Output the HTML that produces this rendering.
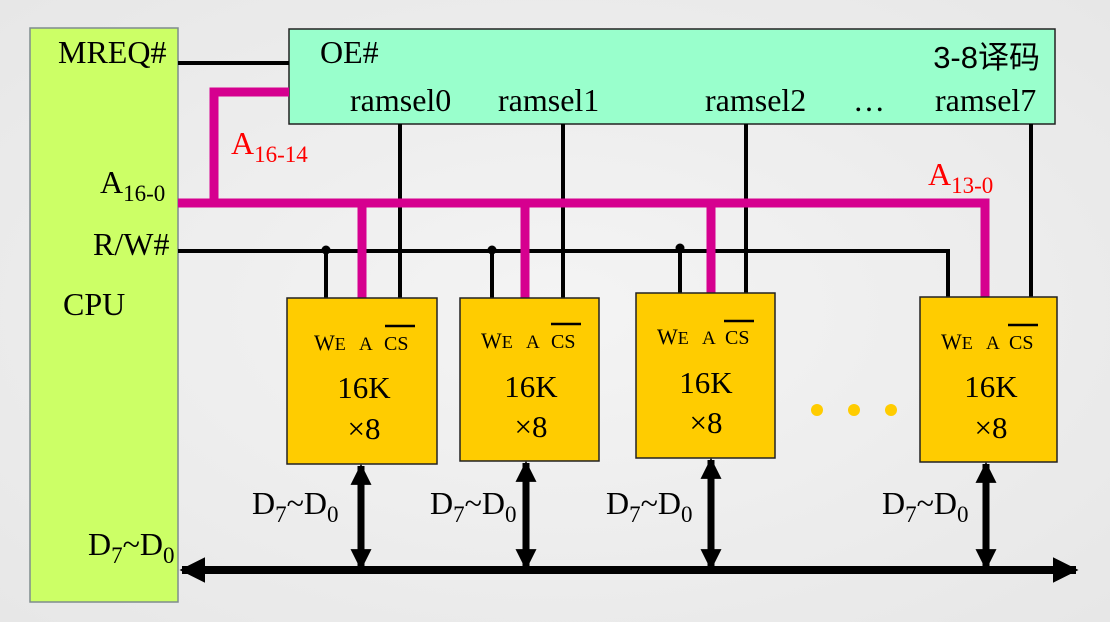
<!DOCTYPE html>
<html><head><meta charset="utf-8"><style>
html,body{margin:0;padding:0;background:#f2f2f2}
svg{display:block}
text{font-family:"Liberation Serif",serif;fill:#000}
</style></head><body>
<svg width="1110" height="622" viewBox="0 0 1110 622" xmlns="http://www.w3.org/2000/svg">
<defs>
<radialGradient id="bg" cx="50%" cy="50%" r="75%"><stop offset="0" stop-color="#f4f4f4"/><stop offset="1" stop-color="#e6e6e6"/></radialGradient>
<marker id="ah" viewBox="0 0 10 10" refX="9" refY="5" markerWidth="3.2" markerHeight="3.2" orient="auto-start-reverse"><path d="M0,0L10,5L0,10z" fill="#000"/></marker>
<marker id="ah2" viewBox="0 0 10 10" refX="9" refY="5" markerWidth="3" markerHeight="3.2" orient="auto-start-reverse"><path d="M0,0L10,5L0,10z" fill="#000"/></marker>
</defs>
<rect width="1110" height="622" fill="url(#bg)"/>
<!-- CPU -->
<rect x="30" y="28" width="148" height="574" fill="#ccff66" stroke="#7f8c8d" stroke-width="1.5"/>
<text x="58" y="63" font-size="32">MREQ#</text>
<text x="100" y="193" font-size="32">A<tspan font-size="23" dy="8">16-0</tspan></text>
<text x="93" y="255" font-size="32">R/W#</text>
<text x="63" y="315" font-size="32">CPU</text>
<text x="88" y="555" font-size="32">D<tspan font-size="23" dy="8">7</tspan><tspan dy="-8">~D</tspan><tspan font-size="23" dy="8">0</tspan></text>
<!-- decoder -->
<rect x="289" y="29" width="766" height="95" fill="#99ffcc" stroke="#222" stroke-width="1.5"/>
<text x="320" y="63" font-size="32">OE#</text>
<text x="1040" y="68" font-size="31" text-anchor="end" style="font-family:'Liberation Sans','Noto Sans CJK SC',sans-serif">3-8译码</text>
<text x="350" y="111" font-size="32">ramsel0</text>
<text x="498" y="111" font-size="32">ramsel1</text>
<text x="705" y="111" font-size="32">ramsel2</text>
<text x="853" y="111" font-size="32">…</text>
<text x="935" y="111" font-size="32">ramsel7</text>
<!-- MREQ -->
<line x1="178" y1="63" x2="289" y2="63" stroke="#000" stroke-width="4"/>
<g stroke="#000" stroke-width="4">
<line x1="400" y1="124" x2="400" y2="298"/>
<line x1="563" y1="124" x2="563" y2="298"/>
<line x1="746" y1="124" x2="746" y2="293"/>
<line x1="1031" y1="124" x2="1031" y2="297"/>
<polyline points="178,251 948,251 948,297" fill="none"/>
<line x1="326" y1="251" x2="326" y2="298"/>
<line x1="492" y1="251" x2="492" y2="298"/>
<line x1="680" y1="251" x2="680" y2="293"/>
</g>
<g fill="#000"><circle cx="326" cy="250" r="4.5"/><circle cx="492" cy="250" r="4.5"/><circle cx="680" cy="248" r="4.5"/></g>
<!-- magenta -->
<g stroke="#d6008f" stroke-width="9" fill="none">
<polyline points="289,92 214,92 214,203"/>
<polyline points="178,203 985,203 985,297"/>
<line x1="362" y1="203" x2="362" y2="298"/>
<line x1="525" y1="203" x2="525" y2="298"/>
<line x1="711" y1="203" x2="711" y2="293"/>
</g>
<text x="231" y="154" font-size="32" style="fill:#ff0000">A<tspan font-size="23" dy="8">16-14</tspan></text>
<text x="928" y="185" font-size="32" style="fill:#ff0000">A<tspan font-size="23" dy="8">13-0</tspan></text>
<!-- chips -->
<g fill="#ffcc00" stroke="#222" stroke-width="1.5">
<rect x="287" y="298" width="150" height="166"/>
<rect x="460" y="298" width="139" height="163"/>
<rect x="636" y="293" width="139" height="165"/>
<rect x="920" y="297" width="137" height="165"/>
</g>
<g font-size="22">
<text x="314" y="350">W<tspan font-size="18">E</tspan></text><text x="359" y="350" font-size="19">A</text><text x="384" y="350" font-size="20">CS</text>
<text x="481" y="348">W<tspan font-size="18">E</tspan></text><text x="526" y="348" font-size="19">A</text><text x="551" y="348" font-size="20">CS</text>
<text x="657" y="344">W<tspan font-size="18">E</tspan></text><text x="702" y="344" font-size="19">A</text><text x="725" y="344" font-size="20">CS</text>
<text x="941" y="349">W<tspan font-size="18">E</tspan></text><text x="986" y="349" font-size="19">A</text><text x="1009" y="349" font-size="20">CS</text>
</g>
<g stroke="#000" stroke-width="2.5">
<line x1="385" y1="326" x2="415" y2="326"/>
<line x1="551" y1="324" x2="581" y2="324"/>
<line x1="724" y1="321" x2="754" y2="321"/>
<line x1="1008" y1="325" x2="1038" y2="325"/>
</g>
<g font-size="31" text-anchor="middle">
<text x="364" y="398">16K</text><text x="364" y="439">×8</text>
<text x="531" y="397">16K</text><text x="531" y="437">×8</text>
<text x="706" y="393">16K</text><text x="706" y="433">×8</text>
<text x="991" y="397">16K</text><text x="991" y="438">×8</text>
</g>
<g fill="#ffcc00"><circle cx="817" cy="410" r="6"/><circle cx="854" cy="410" r="6"/><circle cx="891" cy="410" r="6"/></g>
<!-- data bus -->
<g stroke="#000" stroke-width="8" marker-start="url(#ah)" marker-end="url(#ah)">
<line x1="182" y1="570" x2="1076" y2="570"/>
</g>
<g stroke="#000" stroke-width="7" marker-start="url(#ah2)" marker-end="url(#ah2)">
<line x1="361" y1="466" x2="361" y2="568"/>
<line x1="526" y1="463" x2="526" y2="568"/>
<line x1="711" y1="460" x2="711" y2="568"/>
<line x1="986" y1="464" x2="986" y2="568"/>
</g>
<g font-size="32">
<text x="252" y="514">D<tspan font-size="23" dy="8">7</tspan><tspan dy="-8">~D</tspan><tspan font-size="23" dy="8">0</tspan></text>
<text x="430" y="514">D<tspan font-size="23" dy="8">7</tspan><tspan dy="-8">~D</tspan><tspan font-size="23" dy="8">0</tspan></text>
<text x="606" y="514">D<tspan font-size="23" dy="8">7</tspan><tspan dy="-8">~D</tspan><tspan font-size="23" dy="8">0</tspan></text>
<text x="882" y="514">D<tspan font-size="23" dy="8">7</tspan><tspan dy="-8">~D</tspan><tspan font-size="23" dy="8">0</tspan></text>
</g>
</svg>
</body></html>
